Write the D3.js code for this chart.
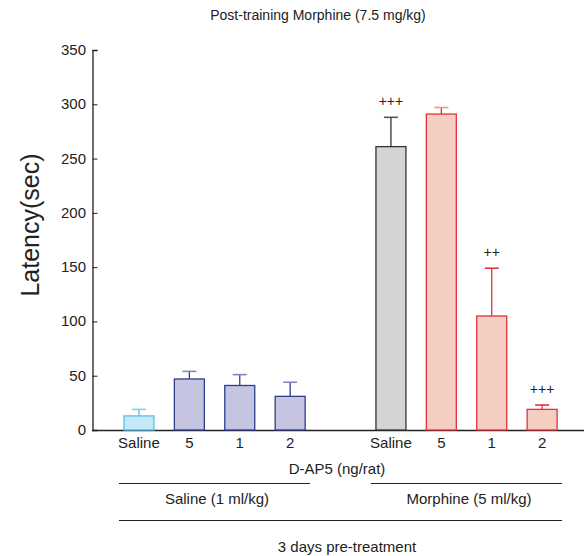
<!DOCTYPE html>
<html>
<head>
<meta charset="utf-8">
<script src="https://cdn.jsdelivr.net/npm/d3@7"></script>
<style>
body{margin:0;background:#fff;}
text{font-family:Arial,"Liberation Sans",sans-serif;fill:#222;}
</style>
</head>
<body>
<svg id="chart" width="584" height="556"></svg>
<script>
// values
var groups=["s-sal","s-5","s-1","s-2","gap","m-sal","m-5","m-1","m-2"];
var tickNames=["Saline","5","1","2","","Saline","5","1","2"];
var means=[13,47,41,31,null,261,291,105,19];
var errs=[6,7,10,13,null,27,6,44,4];
var marks=["","","","","","+++","","++","+++"];
var fills=["#c6e7f7","#c6c5e1","#c6c5e1","#c6c5e1",null,"#d3d4d4","#f4cec2","#f4cec2","#f4cec2"];
var strokes=["#55c1ea","#2e3d8c","#2e3d8c","#2e3d8c",null,"#333333","#e0333d","#e0333d","#e0333d"];
var capCols=["#7fd0ee","#7f8bbf","#7f8bbf","#7f8bbf",null,"#555555","#ef9197","#e0333d","#e0333d"];
var yTicks=[0,50,100,150,200,250,300,350];

var svg=d3.select("#chart");
var x=d3.scaleBand().domain(groups).range([113.9,567.2]).paddingInner(0.405).paddingOuter(0.2);
var y=d3.scaleLinear().domain([0,350]).range([430,50]);

// axes
svg.append("g").attr("transform","translate(92.5,0)")
	.call(d3.axisRight(y).tickValues(yTicks).tickSize(5).tickFormat(""))
	.call(function(g){g.select(".domain").attr("stroke","#222").attr("stroke-width",1.3);
		g.selectAll("line").attr("stroke","#222");});
svg.selectAll(".ylab").data(yTicks).enter().append("text")
	.attr("x",86).attr("y",function(d){return y(d)+5;})
	.attr("text-anchor","end").style("font-size","15px").text(function(d){return d;});
svg.append("line").attr("x1",92).attr("x2",584).attr("y1",430.5).attr("y2",430.5)
	.attr("stroke","#222").attr("stroke-width",1.3);

var data=groups.map(function(g,i){return {g:g,i:i,m:means[i],e:errs[i]};}).filter(function(d){return d.m!==null;});
var cx=function(d){return x(d.g)+x.bandwidth()/2;};

// error bars
svg.selectAll(".err").data(data).enter().append("line")
	.attr("x1",cx).attr("x2",cx).attr("y1",function(d){return y(d.m);}).attr("y2",function(d){return y(d.m+d.e);})
	.attr("stroke",function(d){return strokes[d.i];}).attr("stroke-width",1.3);
svg.selectAll(".cap").data(data).enter().append("line")
	.attr("x1",function(d){return cx(d)-7;}).attr("x2",function(d){return cx(d)+7;})
	.attr("y1",function(d){return y(d.m+d.e);}).attr("y2",function(d){return y(d.m+d.e);})
	.attr("stroke",function(d){return capCols[d.i];}).attr("stroke-width",1.6);

// bars
svg.selectAll(".bar").data(data).enter().append("rect")
	.attr("x",function(d){return x(d.g);}).attr("width",x.bandwidth())
	.attr("y",function(d){return y(d.m);}).attr("height",function(d){return y(0)-y(d.m);})
	.attr("fill",function(d){return fills[d.i];}).attr("stroke",function(d){return strokes[d.i];}).attr("stroke-width",1.3);

// significance marks
svg.selectAll(".mark").data(data.filter(function(d){return marks[d.i];})).enter().append("text")
	.attr("x",cx).attr("y",function(d){return y(d.m+d.e)-11;})
	.attr("text-anchor","middle").style("font-size","14px").text(function(d){return marks[d.i];});

// category labels
svg.selectAll(".xlab").data(data).enter().append("text")
	.attr("x",cx).attr("y",448).attr("text-anchor","middle").style("font-size","15px")
	.text(function(d){return tickNames[d.i];});

svg.append("text").attr("x",318).attr("y",20).attr("text-anchor","middle").style("font-size","14px")
	.text("Post-training Morphine (7.5 mg/kg)");
svg.append("text").attr("transform","translate(39,225) rotate(-90)").attr("text-anchor","middle")
	.style("font-size","25px").text("Latency(sec)");
svg.append("text").attr("x",337).attr("y",474).attr("text-anchor","middle").style("font-size","15px").text("D-AP5 (ng/rat)");

// treatment brackets
var brackets=[[119,310,483],[371,562,483],[119,562,520]];
svg.selectAll(".br").data(brackets).enter().append("line")
	.attr("x1",function(d){return d[0];}).attr("x2",function(d){return d[1];})
	.attr("y1",function(d){return d[2]+0.5;}).attr("y2",function(d){return d[2]+0.5;})
	.attr("stroke","#222").attr("stroke-width",1);
svg.append("text").attr("x",217).attr("y",504).attr("text-anchor","middle").style("font-size","15px").text("Saline (1 ml/kg)");
svg.append("text").attr("x",469).attr("y",504).attr("text-anchor","middle").style("font-size","15px").text("Morphine (5 ml/kg)");
svg.append("text").attr("x",347).attr("y",552).attr("text-anchor","middle").style("font-size","15px").text("3 days pre-treatment");
</script>
</body>
</html>
